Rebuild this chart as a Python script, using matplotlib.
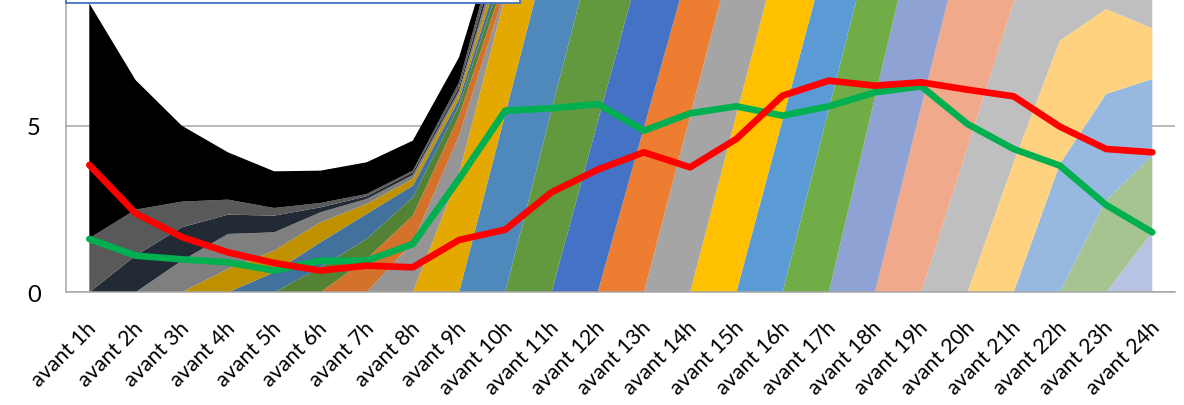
import matplotlib
matplotlib.use("Agg")
import matplotlib.pyplot as plt
from matplotlib.patches import Rectangle
from matplotlib.transforms import ScaledTranslation

plt.rcParams["font.family"] = ["Lato", "DejaVu Sans"]

# catégories
labels = ["avant %dh" % i for i in range(1, 25)]
x = list(range(1, 25))

# séries empilées (une par heure de départ) + reste en noir au sommet
h1 = [1.62, 1.38, 0.77, 0.45, 0.23, 0.13, 0.07, 0.05, 0.15, 0.40, 0.35, 0.30,
      0.30, 0.25, 0.25, 0.20, 0.20, 0.20, 0.15, 0.15, 0.15, 0.10, 0.10, 0.10]
h2 = [0, 1.10, 1.00, 0.58, 0.50, 0.15, 0.08, 0.08, 0.10, 0.30, 0.30, 0.25,
      0.25, 0.20, 0.20, 0.20, 0.15, 0.15, 0.15, 0.10, 0.10, 0.10, 0.10, 0.10]
h3 = [0, 0, 0.95, 1.05, 0.55, 0.30, 0.15, 0.12, 0.10, 0.30, 0.30, 0.25,
      0.25, 0.20, 0.20, 0.20, 0.15, 0.15, 0.15, 0.10, 0.10, 0.10, 0.10, 0.10]
h4 = [0, 0, 0, 0.70, 0.65, 0.60, 0.30, 0.20, 0.15, 0.30, 0.30, 0.25,
      0.25, 0.20, 0.20, 0.20, 0.15, 0.15, 0.15, 0.10, 0.10, 0.10, 0.10, 0.10]
h5 = [0, 0, 0, 0, 0.60, 0.75, 0.75, 0.35, 0.20, 0.30, 0.30, 0.25,
      0.25, 0.20, 0.20, 0.20, 0.15, 0.15, 0.15, 0.10, 0.10, 0.10, 0.10, 0.10]
h6 = [0, 0, 0, 0, 0, 0.75, 0.60, 0.55, 0.30, 0.35, 0.30, 0.25,
      0.25, 0.20, 0.20, 0.20, 0.15, 0.15, 0.15, 0.10, 0.10, 0.10, 0.10, 0.10]
h7 = [0, 0, 0, 0, 0, 0, 1.00, 0.80, 0.60, 0.40, 0.35, 0.30,
      0.25, 0.25, 0.20, 0.20, 0.15, 0.15, 0.15, 0.10, 0.10, 0.10, 0.10, 0.10]
h8 = [0] * 7 + [1.50, 1.15, 0.15, 0.40, 0.35, 0.30, 0.25, 0.25, 0.20, 0.20,
                0.15, 0.15, 0.15, 0.10, 0.10, 0.10, 0.10]
h9 = [0] * 8 + [3.55, 3.55, 2.40, 1.70, 1.20, 0.90, 0.70, 0.55, 0.45, 0.35,
                0.30, 0.25, 0.20, 0.20, 0.15, 0.15]
h10 = [0] * 9 + [5.35, 5.27, 2.80, 2.00, 1.40, 1.05, 0.80, 0.60, 0.50, 0.40,
                 0.30, 0.25, 0.20, 0.20, 0.15]
h11 = [0] * 10 + [5.45, 5.77, 2.90, 2.10, 1.50, 1.10, 0.85, 0.65, 0.50, 0.40,
                  0.30, 0.25, 0.20, 0.20]
h12 = [0] * 11 + [5.11, 5.26, 2.80, 2.00, 1.45, 1.05, 0.80, 0.60, 0.45, 0.35,
                  0.30, 0.25, 0.20]
h13 = [0] * 12 + [4.94, 4.59, 2.70, 1.95, 1.40, 1.00, 0.75, 0.55, 0.45, 0.35,
                  0.30, 0.25]
h14 = [0] * 13 + [5.29, 5.27, 2.85, 2.05, 1.45, 1.05, 0.80, 0.60, 0.45, 0.35,
                  0.30]
h15 = [0] * 14 + [5.32, 5.46, 2.90, 2.10, 1.50, 1.10, 0.80, 0.60, 0.45, 0.35]
h16 = [0] * 15 + [5.17, 4.86, 2.75, 2.00, 1.45, 1.05, 0.75, 0.55, 0.45]
h17 = [0] * 16 + [5.49, 5.12, 2.85, 2.05, 1.50, 1.10, 0.80, 0.60]
h18 = [0] * 17 + [5.85, 6.14, 3.00, 2.20, 1.60, 1.15, 0.85]
h19 = [0] * 18 + [5.56, 6.76, 3.10, 2.25, 1.60, 1.15]
h20 = [0] * 19 + [4.34, 4.80, 3.20, 2.40, 1.80]
h21 = [0] * 20 + [3.90, 3.70, 2.55, 1.52]
h22 = [0] * 21 + [3.85, 3.20, 2.30]
h23 = [0] * 22 + [2.75, 2.30]
h24 = [0] * 23 + [1.80]
reste = [7.05, 3.89, 2.28, 1.42, 1.10, 0.97, 0.95, 0.90, 0.75, 0.20, 0.40, 0.40,
         0.40, 0.40, 0.40, 0.40, 0.40, 0.40, 0.40, 0.40, 0.40, 0.40, 0.40, 0.40]

# courbes
rouge = [3.82, 2.37, 1.66, 1.20, 0.88, 0.65, 0.80, 0.75, 1.57, 1.88, 3.00, 3.68,
         4.20, 3.75, 4.60, 5.90, 6.35, 6.20, 6.30, 6.08, 5.88, 4.97, 4.30, 4.20]
vert = [1.60, 1.10, 0.99, 0.90, 0.65, 0.95, 0.95, 1.45, 3.40, 5.45, 5.52, 5.65,
        4.85, 5.37, 5.58, 5.30, 5.58, 6.00, 6.18, 5.05, 4.30, 3.80, 2.62, 1.80]

# empilement du bas vers le haut : h24 ... h1 puis le reste
series = [h24, h23, h22, h21, h20, h19, h18, h17, h16, h15, h14, h13,
          h12, h11, h10, h9, h8, h7, h6, h5, h4, h3, h2, h1, reste]
couleurs = ["#B8C2E3", "#A5C490", "#97B9E0", "#FFD27F", "#BFBFBF", "#F0A98A",
            "#8FA2D4", "#70AD47", "#5B9BD5", "#FFC000", "#A5A5A5", "#ED7D31",
            "#4472C4", "#62993E", "#4F89BC", "#E3A900", "#959595", "#D4712A",
            "#548235", "#41719C", "#BF9000", "#7F7F7F", "#222A35", "#595959",
            "#000000"]

fig = plt.figure(figsize=(11.84, 4.06), dpi=100)
ax = fig.add_axes([66.2 / 1184, (406 - 293.3) / 406, (1175.4 - 66.2) / 1184, 293.3 / 406])

ax.stackplot(x, *series, colors=couleurs, linewidth=0, zorder=2)
ax.plot(x, vert, color="#00B050", lw=4.8, solid_capstyle="round",
        solid_joinstyle="round", zorder=4)
ax.plot(x, rouge, color="#FF0000", lw=4.8, solid_capstyle="round",
        solid_joinstyle="round", zorder=5)

ax.set_xlim(0.5, 24.5)
ax.set_ylim(0, 8.8)
ax.set_yticks([0, 5])
ax.yaxis.grid(True, color="#A6A6A6", lw=1.1, zorder=1)
ax.set_axisbelow(True)

for side in ["top", "right"]:
    ax.spines[side].set_visible(False)
for side in ["left", "bottom"]:
    ax.spines[side].set_color("#A6A6A6")
    ax.spines[side].set_linewidth(1.1)

ax.tick_params(axis="y", length=0, pad=18.5, labelsize=17)
ax.tick_params(axis="x", length=0, pad=23, labelsize=15.5)
ax.set_xticks(x)
ax.set_xticklabels(labels, rotation=45, ha="right", va="center",
                   rotation_mode="anchor")
decalage = ScaledTranslation(4 / 100, 0, fig.dpi_scale_trans)
for lab in ax.get_xticklabels():
    lab.set_transform(lab.get_transform() + decalage)

# cadre de légende (coupé en haut)
fig.add_artist(Rectangle((66 / 1184, 1 - 4 / 406), (520 - 66) / 1184, 0.1,
                         transform=fig.transFigure, facecolor="white",
                         edgecolor="#4472C4", lw=1.3, zorder=10))

fig.savefig("out.png", dpi=100)
